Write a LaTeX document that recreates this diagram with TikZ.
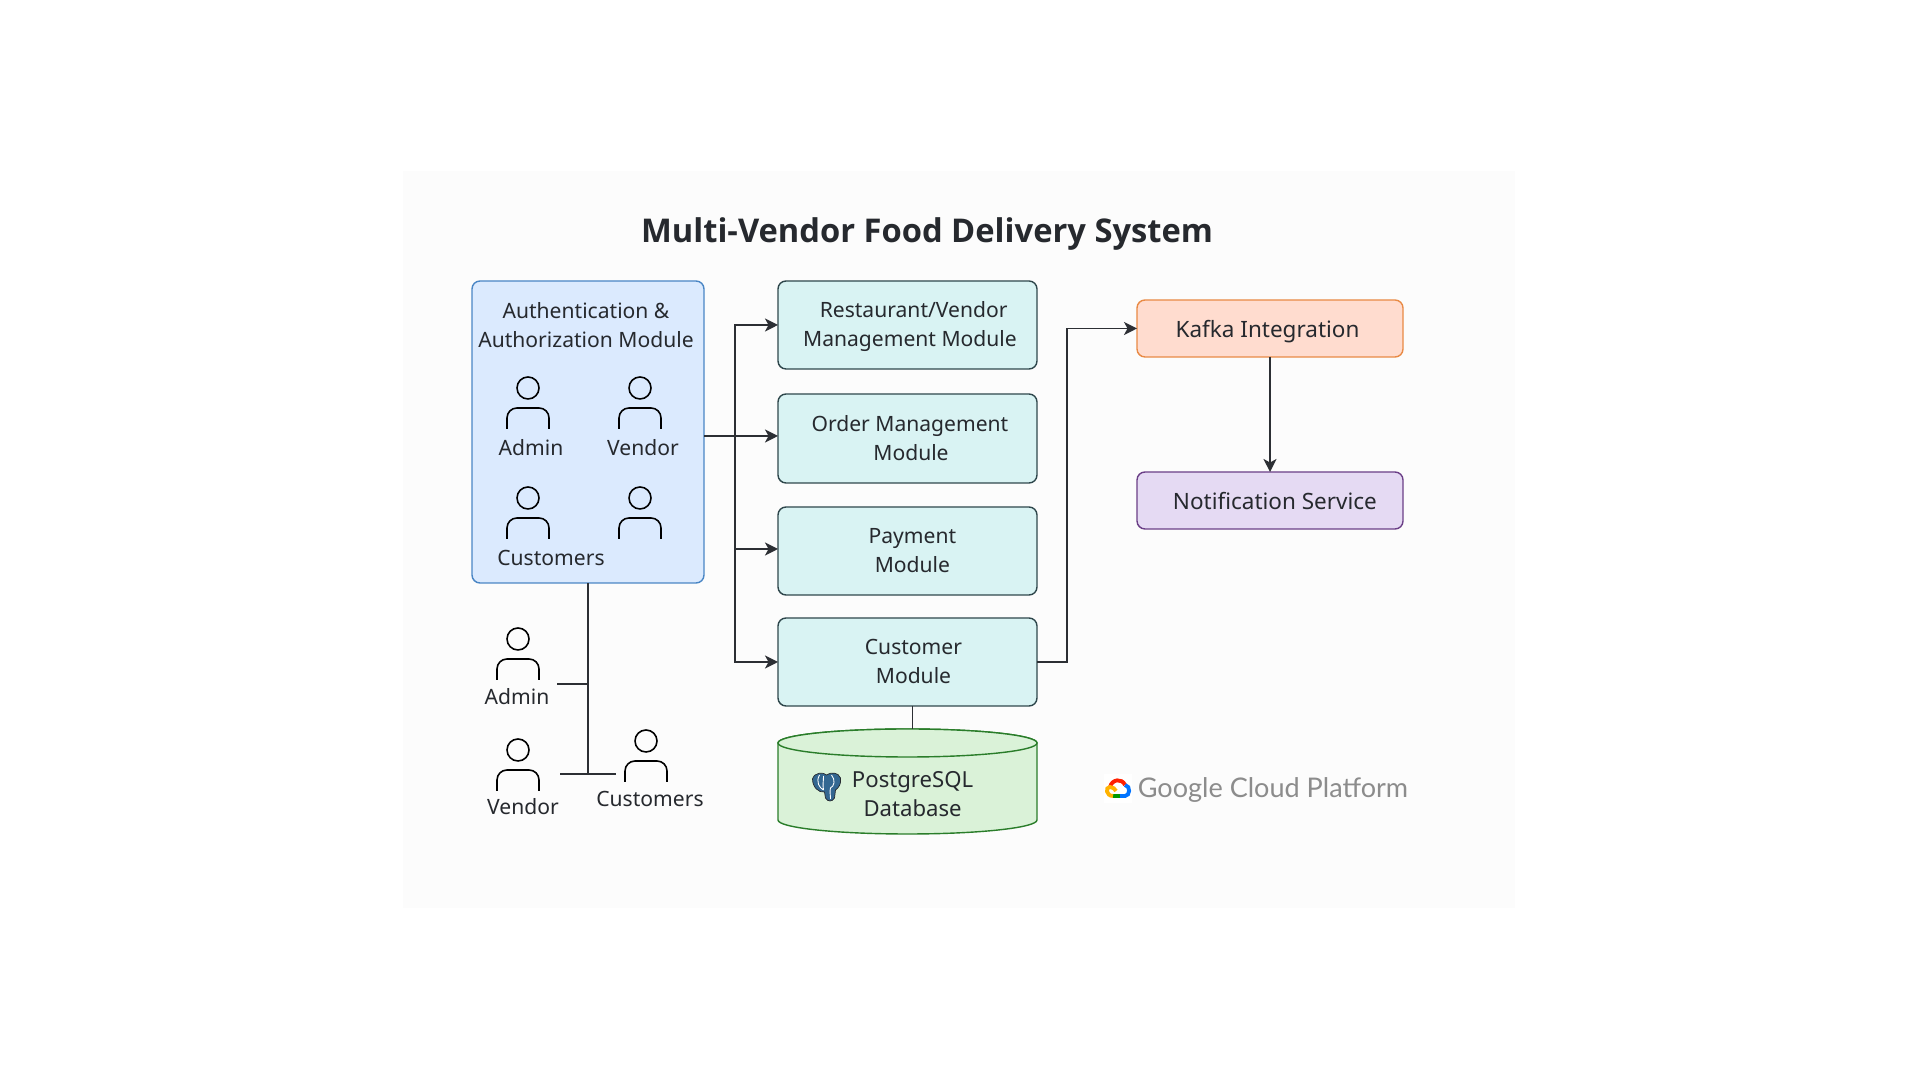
\documentclass[tikz,border=0pt]{standalone}
\usepackage{fontspec}
\setmainfont{Noto Sans}
\newfontfamily\gcpfont{Lato}
\newfontfamily\titlefont{Open Sans}
\usetikzlibrary{arrows.meta}
\definecolor{inkdark}{HTML}{26292E}
\definecolor{wirecol}{HTML}{2C2F34}
\definecolor{panelcol}{HTML}{FCFCFC}
\definecolor{pgblue}{HTML}{336791}
\definecolor{authfill}{HTML}{DBEAFE}
\definecolor{authline}{HTML}{4A86C5}
\definecolor{modfill}{HTML}{D9F3F3}
\definecolor{modline}{HTML}{2F474C}
\definecolor{kafkafill}{HTML}{FFDCCF}
\definecolor{kafkaline}{HTML}{E98A45}
\definecolor{notiffill}{HTML}{E5DAF3}
\definecolor{notifline}{HTML}{6B3F87}
\definecolor{dbfill}{HTML}{DAF2D8}
\definecolor{dbline}{HTML}{2A7D2A}
\tikzset{
	txt/.style={text=inkdark, font=\fontsize{6}{8.25}\selectfont, align=center, inner sep=0pt},
	boxed/.style={rounded corners=0.8mm, line width=0.4pt, outer sep=0pt, txt},
	modbox/.style={boxed, draw=modline, fill=modfill, minimum width=2.59cm, minimum height=0.88cm, text depth=0.3pt},
	svcbox/.style={boxed, font=\fontsize{6.4}{8.25}\selectfont, minimum width=2.66cm, minimum height=0.57cm, text height=5.4pt, text depth=0pt},
	wire/.style={draw=wirecol, line width=0.5pt},
	tipwire/.style={wire, -{Stealth[length=1.3mm,width=1.3mm,inset=0.35mm]}},
	dbshape/.style={draw=dbline, fill=dbfill, line width=0.4pt},
	person/.pic={
		\draw[line width=0.45pt, draw=black] (0,0) circle (0.11);
		\draw[line width=0.45pt, draw=black] (-0.21,-0.41) -- (-0.21,-0.30) to[out=90,in=180] (-0.11,-0.20) -- (0.11,-0.20) to[out=0,in=90] (0.21,-0.30) -- (0.21,-0.41);
	}
}
\begin{document}
\begin{tikzpicture}
	\useasboundingbox (0,0) rectangle (19.2,10.8);
	\fill[panelcol] (4.03,1.72) rectangle (15.15,9.09);
	\draw (9.27,8.46) node[txt, font=\titlefont\fontsize{9.3}{12}\selectfont\bfseries](title){Multi-Vendor Food Delivery System};
	\draw (5.88,6.48) node[boxed, draw=authline, fill=authfill, minimum width=2.32cm, minimum height=3.02cm](auth){};
	\draw (5.86,7.55) node[txt](authtext){Authentication \&\\Authorization Module};
	\draw (9.075,7.55) node[modbox](resto){\hspace*{3.5pt}Restaurant/Vendor\\\hspace*{1.4pt}Management Module};
	\draw (9.075,6.415) node[modbox, minimum height=0.89cm](order){\hspace*{1.4pt}Order Management\\\hspace*{2pt}Module};
	\draw (9.075,5.29) node[modbox](payment){\hspace*{2.8pt}Payment\\\hspace*{2.8pt}Module};
	\draw (9.075,4.18) node[modbox](customer){\hspace*{3.4pt}Customer\\\hspace*{3.4pt}Module};
	\draw (12.70,7.515) node[svcbox, draw=kafkaline, fill=kafkafill](kafka){\hspace*{-1.4pt}Kafka Integration};
	\draw (12.70,5.795) node[svcbox, draw=notifline, fill=notiffill](notif){\hspace*{2.8pt}Notification Service};
	\draw[dbshape] (7.78,3.37) -- (7.78,2.60) arc[start angle=180, end angle=360, x radius=1.295, y radius=0.14] -- (10.37,3.37) arc[start angle=0, end angle=180, x radius=1.295, y radius=0.14] -- cycle;
	\draw[dbshape] (9.075,3.37) ellipse[x radius=1.295, y radius=0.14];
	\draw (9.126,2.855) node[txt, font=\fontsize{6.3}{8.25}\selectfont](dbtext){PostgreSQL\\Database};
	\draw (5.28,6.92) pic{person} (6.40,6.92) pic{person} (5.28,5.82) pic{person} (6.40,5.82) pic{person};
	\draw (5.18,4.41) pic{person} (5.18,3.30) pic{person} (6.46,3.39) pic{person};
	\draw (5.31,6.32) node[txt](adminA){Admin} (6.43,6.32) node[txt](vendorA){Vendor} (5.51,5.22) node[txt](custA){Customers};
	\draw (5.17,3.83) node[txt](adminB){Admin} (5.23,2.73) node[txt](vendorB){Vendor} (6.50,2.81) node[txt](custB){Customers};
	\coordinate (authout) at (7.04,6.44);
	\coordinate (bus) at (7.35,6.44);
	\coordinate (trunk) at (5.88,3.06);
	\coordinate (admintick) at (5.57,3.96);
	\coordinate (vendortick) at (5.60,3.06);
	\coordinate (custtick) at (6.155,3.06);
	\coordinate (kafkabus) at (10.67,7.515);
	\coordinate (dbtop) at (9.126,3.51);
	\draw[tipwire] (authout) -- (authout-|order.west);
	\draw[tipwire] (bus) -- (bus|-resto) -- (resto.west);
	\draw[tipwire] (bus) -- ([yshift=0.2mm]bus|-payment) -- ([yshift=0.2mm]payment.west);
	\draw[tipwire] (bus) -- (bus|-customer) -- (customer.west);
	\draw[tipwire] (customer.east) -| (kafkabus) -- (kafka.west);
	\draw[tipwire] (kafka.south) -- (notif.north);
	\draw[wire] (customer.south-|dbtop) -- (dbtop);
	\draw[wire] (auth.south) -- (trunk);
	\draw[wire] (admintick) -- (admintick-|trunk);
	\draw[wire] (vendortick) -- (custtick);
	\begin{scope}[shift={(8.265,2.93)}, x=0.01cm, y=-0.01cm]
		\filldraw[pgblue, draw=inkdark, line width=0.2pt] (-14,-8) .. controls (-12,-15) and (-3,-15) .. (0,-12) .. controls (4,-15) and (12,-15) .. (14,-9) .. controls (15,-3) and (12,1) .. (9,3) -- (8,11) .. controls (6,15) and (1,15) .. (-1,11) -- (-2,5) .. controls (-8,6) and (-14,0) .. (-14,-8) -- cycle;
		\draw[white, line width=0.25pt] (-7,-12) .. controls (-11,-5) and (-7,1) .. (-3,3) (-3,-11) .. controls (-3,-6) and (-4,-2) .. (-3,3) (5,-12) .. controls (9,-7) and (8,-1) .. (4,1) .. controls (3,4) and (4,8) .. (4,12);
	\end{scope}
	\fill[white] (11.04,2.77) rectangle (11.32,3.06);
	\begin{scope}[shift={(11.18,2.92)}, x=0.01cm, y=-0.01cm, line width=1.1pt]
		\draw[red!75!orange] (-8,-1) .. controls (-6,-9) and (4,-10) .. (7,-3);
		\draw[blue!55!cyan] (7,-3) .. controls (13,-2) and (12,8) .. (7,8) -- (2,8);
		\draw[green!60!black] (2,8) -- (-5,8);
		\draw[orange!60!yellow] (-5,8) .. controls (-12,8) and (-13,-1) .. (-8,-1) .. controls (-5,-1) and (-3,1) .. (-2,3);
	\end{scope}
	\draw (12.73,2.90) node[txt, text=black!45, font=\gcpfont\fontsize{7.7}{9}\selectfont](gcp){Google Cloud Platform};
\end{tikzpicture}
\end{document}
